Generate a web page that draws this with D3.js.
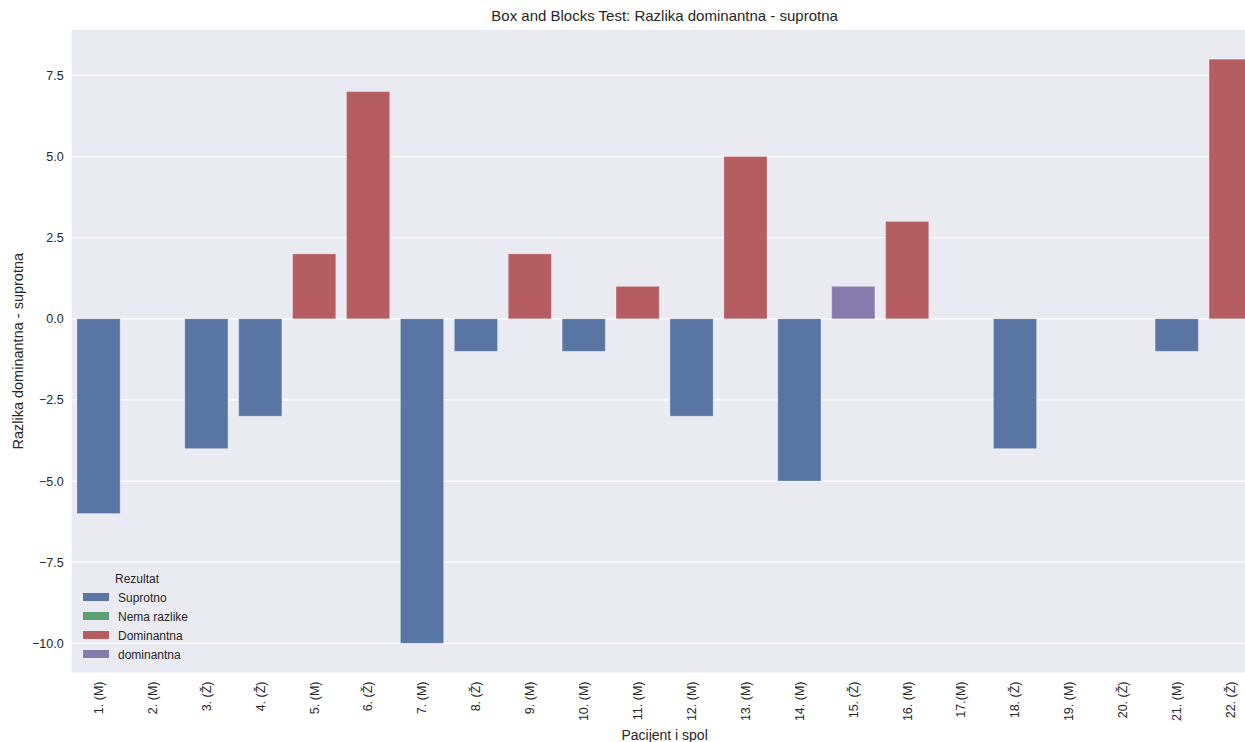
<!DOCTYPE html>
<html lang="en">
  <head>
    <meta charset="UTF-8" />
    <title>Box and Blocks Test</title>
    <script src="https://d3js.org/d3.v7.min.js"></script>
    <style>
      body {
        margin: 0;
        background: #fff;
        font-family: "Liberation Sans", Arial, sans-serif;
      }
      svg {
        display: block;
      }
      .tick text {
        fill: #262626;
      }
    </style>
  </head>
  <body>
    <script>
      // Data
      const patients = [
        "1. (M)", "2. (M)", "3. (Ž)", "4. (Ž)", "5. (M)", "6. (Ž)", "7. (M)",
        "8. (Ž)", "9. (M)", "10. (M)", "11. (M)", "12. (M)", "13. (M)", "14. (M)",
        "15. (Ž)", "16. (M)", "17.(M)", "18. (Ž)", "19. (M)", "20. (Ž)", "21. (M)", "22. (Ž)"
      ];
      const differences = [-6, 0, -4, -3, 2, 7, -10, -1, 2, -1, 1, -3, 5, -5, 1, 3, 0, -4, 0, 0, -1, 8];
      const results = [
        "Suprotno", "Nema razlike", "Suprotno", "Suprotno", "Dominantna", "Dominantna",
        "Suprotno", "Suprotno", "Dominantna", "Suprotno", "Dominantna", "Suprotno",
        "Dominantna", "Suprotno", "dominantna", "Dominantna", "Nema razlike", "Suprotno",
        "Nema razlike", "Nema razlike", "Suprotno", "Dominantna"
      ];
      const resultCategories = ["Suprotno", "Nema razlike", "Dominantna", "dominantna"];
      const resultColors = ["#5975a4", "#5f9e6e", "#b55d60", "#857aab"];
      const yTicks = [-10, -7.5, -5, -2.5, 0, 2.5, 5, 7.5];

      const rows = patients.map((p, i) => ({ patient: p, diff: differences[i], result: results[i] }));

      const width = 1245;
      const height = 742;
      const margin = { top: 30, left: 71.6, bottom: 70 };
      const plotRight = 1257.6; // axes run past the picture edge
      const plotBottom = height - margin.bottom + 0.5;

      const svg = d3.select("body").append("svg").attr("width", width).attr("height", height);

      const x = d3.scaleBand().domain(patients).range([margin.left, plotRight]).paddingInner(0.2).paddingOuter(0.1);
      const y = d3.scaleLinear().domain([-10.9, 8.9]).range([plotBottom, margin.top]);
      const color = d3.scaleOrdinal().domain(resultCategories).range(resultColors);

      // axes background
      svg.append("rect")
        .attr("x", margin.left)
        .attr("y", margin.top)
        .attr("width", plotRight - margin.left)
        .attr("height", plotBottom - margin.top)
        .attr("fill", "#eaeaf2");

      // grid lines
      svg.append("g")
        .selectAll("line")
        .data(yTicks)
        .join("line")
        .attr("x1", margin.left)
        .attr("x2", plotRight)
        .attr("y1", (d) => y(d))
        .attr("y2", (d) => y(d))
        .attr("stroke", "#fff")
        .attr("stroke-width", 1.3);

      // bars
      svg.append("g")
        .selectAll("rect")
        .data(rows)
        .join("rect")
        .attr("x", (d) => x(d.patient))
        .attr("width", x.bandwidth())
        .attr("y", (d) => y(Math.max(0, d.diff)))
        .attr("height", (d) => Math.abs(y(d.diff) - y(0)))
        .attr("fill", (d) => color(d.result))
        .attr("stroke", "#ffffff")
        .attr("stroke-opacity", 0.25)
        .attr("stroke-width", 1);

      // y axis
      const yAxis = svg.append("g")
        .attr("transform", `translate(${margin.left},0)`)
        .call(d3.axisLeft(y).tickValues(yTicks).tickSize(0).tickPadding(8)
          .tickFormat((d) => d3.format(".1f")(d).replace("-", "\u2212")));
      yAxis.select(".domain").remove();
      yAxis.selectAll("text").attr("font-size", 12.5).attr("font-family", "Liberation Sans, Arial, sans-serif");

      // x axis
      const xAxis = svg.append("g")
        .attr("transform", `translate(0,${plotBottom})`)
        .call(d3.axisBottom(x).tickSize(0));
      xAxis.select(".domain").remove();
      xAxis.selectAll("text")
        .attr("font-size", 12.5)
        .attr("font-family", "Liberation Sans, Arial, sans-serif")
        .attr("text-anchor", "end")
        .attr("dy", "0.35em")
        .attr("transform", "translate(0,9) rotate(-90)")
        .attr("x", 0)
        .attr("y", 0);

      // title and axis labels
      svg.append("text")
        .attr("x", (margin.left + plotRight) / 2)
        .attr("y", 21)
        .attr("text-anchor", "middle")
        .attr("font-size", 15)
        .attr("fill", "#262626")
        .text("Box and Blocks Test: Razlika dominantna - suprotna");

      svg.append("text")
        .attr("x", (margin.left + plotRight) / 2)
        .attr("y", 740)
        .attr("text-anchor", "middle")
        .attr("font-size", 14)
        .attr("fill", "#262626")
        .text("Pacijent i spol");

      svg.append("text")
        .attr("transform", `translate(23,${(margin.top + plotBottom) / 2}) rotate(-90)`)
        .attr("text-anchor", "middle")
        .attr("font-size", 14.5)
        .attr("fill", "#262626")
        .text("Razlika dominantna - suprotna");

      // legend
      const legend = svg.append("g").attr("transform", "translate(83,578)");
      legend.append("text")
        .attr("x", 54)
        .attr("y", 5)
        .attr("text-anchor", "middle")
        .attr("font-size", 12)
        .attr("fill", "#262626")
        .text("Rezultat");
      const items = legend.selectAll("g.item")
        .data(resultCategories)
        .join("g")
        .attr("class", "item")
        .attr("transform", (d, i) => `translate(0,${19 + i * 19})`);
      items.append("rect")
        .attr("x", 0)
        .attr("y", -4)
        .attr("width", 26)
        .attr("height", 8)
        .attr("fill", (d) => color(d));
      items.append("text")
        .attr("x", 35)
        .attr("y", 4.5)
        .attr("font-size", 12)
        .attr("fill", "#262626")
        .text((d) => d);
    </script>
  </body>
</html>
